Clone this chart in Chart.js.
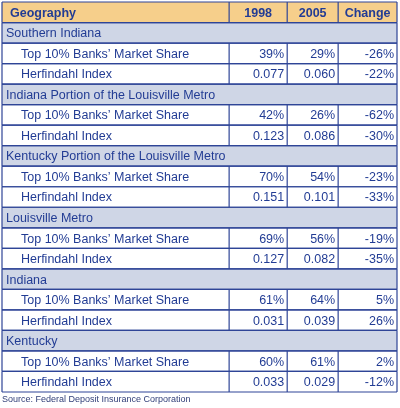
<!DOCTYPE html>
<html>
<head>
<meta charset="utf-8">
<script src="https://cdn.jsdelivr.net/npm/chart.js@4"></script>
<style>
  html, body { margin: 0; padding: 0; background: #fff; }
  #wrap { width: 400px; height: 408px; position: relative; }
</style>
</head>
<body>
<div id="wrap"><canvas id="chart"></canvas></div>
<script>
const columns = ["Geography", "1998", "2005", "Change"];
const regions = [
  "Southern Indiana",
  "Indiana Portion of the Louisville Metro",
  "Kentucky Portion of the Louisville Metro",
  "Louisville Metro",
  "Indiana",
  "Kentucky"
];
const measures = ["Top 10% Banks’ Market Share", "Herfindahl Index"];
const share1998 = [39, 42, 70, 69, 61, 60];
const share2005 = [29, 26, 54, 56, 64, 61];
const shareChange = [-26, -62, -23, -19, 5, 2];
const herf1998 = [0.077, 0.123, 0.151, 0.127, 0.031, 0.033];
const herf2005 = [0.060, 0.086, 0.101, 0.082, 0.039, 0.029];
const herfChange = [-22, -30, -33, -35, 26, -12];
const sourceNote = "Source: Federal Deposit Insurance Corporation";

const NAVY = "#223c94";
const LINE = "#2f4597";
const HEAD_BG = "#f6cf8b";
const GROUP_BG = "#cfd6e6";
const FONT = "'Liberation Sans', Arial, sans-serif";

// column edges as fractions of the table width
const colEdges = [0, 0.575, 0.722, 0.851, 1];

// build rows: header, then one group row + two measure rows per region
let rows = [{ kind: "head", cells: columns }];
regions.forEach((name, i) => {
  rows.push({ kind: "group", cells: [name] });
  rows.push({ kind: "data", cells: [measures[0], share1998[i] + "%", share2005[i] + "%", shareChange[i] + "%"] });
  rows.push({ kind: "data", cells: [measures[1], herf1998[i].toFixed(3), herf2005[i].toFixed(3), herfChange[i] + "%"] });
});

const bgFor = { head: HEAD_BG, group: GROUP_BG, data: "#ffffff" };

const tablePlugin = {
  id: "tablePlugin",
  afterDatasetsDraw(chart) {
    const ctx = chart.ctx;
    const x = chart.scales.x, y = chart.scales.y;
    const band = y.getPixelForValue(1) - y.getPixelForValue(0);
    const xs = colEdges.map(v => x.getPixelForValue(v));
    const left = xs[0], right = xs[xs.length - 1];
    ctx.save();
    ctx.strokeStyle = LINE;
    ctx.lineWidth = 1.2;
    rows.forEach((row, i) => {
      const cy = y.getPixelForValue(i);
      const top = cy - band / 2, bot = cy + band / 2;
      // horizontal lines
      ctx.beginPath();
      ctx.moveTo(left, top); ctx.lineTo(right, top);
      ctx.moveTo(left, bot); ctx.lineTo(right, bot);
      // vertical lines
      ctx.moveTo(left, top); ctx.lineTo(left, bot);
      ctx.moveTo(right, top); ctx.lineTo(right, bot);
      if (row.kind !== "group") {
        for (let k = 1; k < xs.length - 1; k++) {
          ctx.moveTo(xs[k], top); ctx.lineTo(xs[k], bot);
        }
      }
      ctx.stroke();

      // text
      ctx.fillStyle = NAVY;
      ctx.textBaseline = "middle";
      if (row.kind === "head") {
        ctx.font = "bold 12.5px " + FONT;
        ctx.textAlign = "left";
        ctx.fillText(row.cells[0], left + 8, cy + 1);
        ctx.textAlign = "center";
        for (let k = 1; k < row.cells.length; k++) {
          ctx.fillText(row.cells[k], (xs[k] + xs[k + 1]) / 2, cy + 1);
        }
      } else if (row.kind === "group") {
        ctx.font = "12.5px " + FONT;
        ctx.textAlign = "left";
        ctx.fillText(row.cells[0], left + 4, cy + 1);
      } else {
        ctx.font = "12.5px " + FONT;
        ctx.textAlign = "left";
        ctx.fillText(row.cells[0], left + 19, cy + 1);
        ctx.textAlign = "right";
        for (let k = 1; k < row.cells.length; k++) {
          ctx.fillText(row.cells[k], xs[k + 1] - 3, cy + 1);
        }
      }
    });

    // source note
    ctx.fillStyle = "#33417a";
    ctx.font = "9px " + FONT;
    ctx.textAlign = "left";
    ctx.textBaseline = "middle";
    ctx.fillText(sourceNote, left, chart.height - 8);
    ctx.restore();
  }
};

chart = new Chart("chart", {
  type: "bar",
  data: {
    labels: rows.map((r, i) => "r" + i),
    datasets: [{
      data: rows.map(() => [0, 1]),
      backgroundColor: rows.map(r => bgFor[r.kind]),
      borderWidth: 0,
      barPercentage: 1,
      categoryPercentage: 1
    }]
  },
  options: {
    indexAxis: "y",
    responsive: true,
    maintainAspectRatio: false,
    animation: false,
    layout: { padding: { left: 2, right: 3, top: 2, bottom: 16 } },
    plugins: {
      legend: { display: false },
      tooltip: { enabled: false }
    },
    scales: {
      x: { type: "linear", min: 0, max: 1, display: false },
      y: { type: "category", display: false, offset: true }
    }
  },
  plugins: [tablePlugin]
});
</script>
</body>
</html>
